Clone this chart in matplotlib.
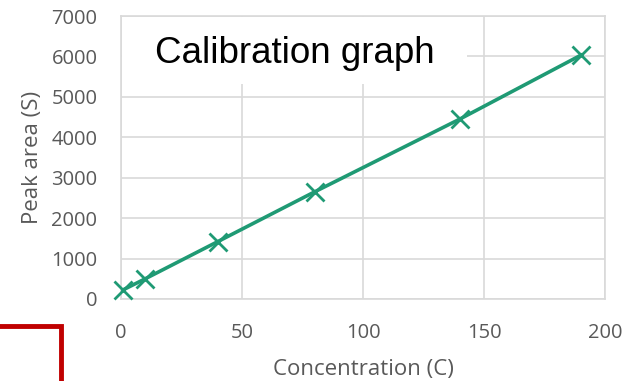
import matplotlib
matplotlib.use("Agg")
import matplotlib.pyplot as plt
from matplotlib.patches import Rectangle
from matplotlib.lines import Line2D

concentration = [1, 10, 40, 80, 140, 190]
peak_area = [230, 500, 1420, 2650, 4450, 6030]
x_ticks = [0, 50, 100, 150, 200]
y_ticks = [0, 1000, 2000, 3000, 4000, 5000, 6000, 7000]

DPI = 100
fig = plt.figure(figsize=(6.25, 3.81), dpi=DPI)
W, H = 625, 381
left, right, top, bottom = 121, 605, 16, 299
ax = fig.add_axes([left / W, 1 - bottom / H, (right - left) / W, (bottom - top) / H])

green = '#1f9a74'
grey = '#d9d9d9'
text_grey = '#595959'
font = 'Open Sans'

ax.plot(concentration, peak_area, color=green, lw=2.6, marker='x', ms=13, mew=2.0, zorder=5, clip_on=False)

ax.set_xlim(0, 200)
ax.set_ylim(0, 7000)
ax.set_xticks(x_ticks)
ax.set_yticks(y_ticks)
ax.grid(True, color=grey, lw=1.2, zorder=0)
ax.set_axisbelow(True)
for s in ax.spines.values():
    s.set_color(grey)
    s.set_linewidth(1.2)
ax.tick_params(length=0, labelcolor=text_grey, labelsize=14.5)
ax.tick_params(axis='x', pad=17)
ax.tick_params(axis='y', pad=17)
for lab in ax.get_xticklabels() + ax.get_yticklabels():
    lab.set_fontfamily(font)

# white title box covering grid
ax.add_patch(Rectangle((0.6, 5330), 143 - 0.6, 7000 - 5330 - 25, facecolor='white', edgecolor='none', zorder=1))
ax.text(72, 6080, 'Calibration graph', fontsize=26.5, family='Liberation Sans', color='black',
        ha='center', va='center', zorder=2)

ax.set_xlabel('Concentration (C)', fontsize=16, family=font, color=text_grey, labelpad=12)
ax.set_ylabel('Peak area (S)', fontsize=16, family=font, color=text_grey, labelpad=6)

# red bracket at bottom-left
fig.add_artist(Line2D([0, 61 / W, 61 / W], [1 - 326 / H, 1 - 326 / H, 0], color='#c00000', lw=3.5,
                      transform=fig.transFigure, solid_joinstyle='miter'))

fig.savefig('out.png', dpi=DPI)
